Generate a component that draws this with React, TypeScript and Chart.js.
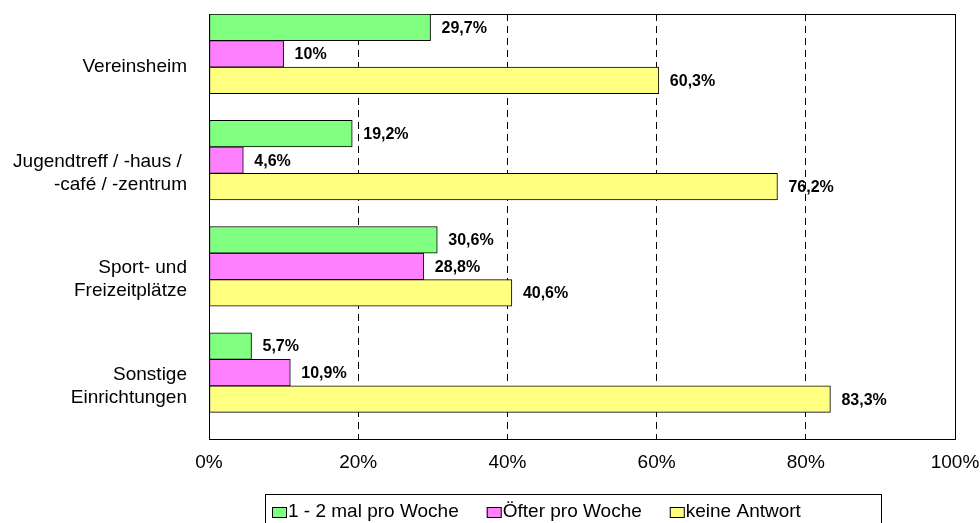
import React, { useEffect, useRef } from "react";
import { Chart, registerables } from "chart.js";

Chart.register(...registerables);

const categories: (string | string[])[] = [
  "Vereinsheim",
  ["Jugendtreff / -haus / ", "-café / -zentrum"],
  ["Sport- und", "Freizeitplätze"],
  ["Sonstige", "Einrichtungen"],
];
const seriesNames = ["1 - 2 mal pro Woche", "Öfter pro Woche", "keine Antwort"];
const weekly12 = [29.7, 19.2, 30.6, 5.7];
const moreOften = [10, 4.6, 28.8, 10.9];
const noAnswer = [60.3, 76.2, 40.6, 83.3];
const xTickValues = [0, 20, 40, 60, 80, 100];
const seriesColors = ["#80FF80", "#FF80FF", "#FFFF80"];

const FONT = "'Liberation Sans', Arial, sans-serif";

const fmt = (v: number) => String(v).replace(".", ",") + "%";

const plotBorderPlugin = {
  id: "plotBorder",
  beforeDatasetsDraw(chart: any) {
    const { ctx, chartArea } = chart;
    ctx.save();
    ctx.strokeStyle = "#000";
    ctx.lineWidth = 1;
    ctx.strokeRect(
      Math.round(chartArea.left) + 0.5,
      Math.round(chartArea.top) + 0.5,
      Math.round(chartArea.right - chartArea.left),
      Math.round(chartArea.bottom - chartArea.top)
    );
    ctx.restore();
  },
};

const valueLabelPlugin = {
  id: "valueLabels",
  afterDatasetsDraw(chart: any) {
    const { ctx } = chart;
    ctx.save();
    ctx.font = `bold 16px ${FONT}`;
    ctx.fillStyle = "#000";
    ctx.textAlign = "left";
    ctx.textBaseline = "middle";
    chart.data.datasets.forEach((ds: any, di: number) => {
      if (!ds.label) return;
      const meta = chart.getDatasetMeta(di);
      meta.data.forEach((el: any, i: number) => {
        const v = ds.data[i];
        if (v == null) return;
        ctx.fillText(fmt(v), el.x + 11, el.y + 1);
      });
    });
    ctx.restore();
  },
};

const boxLegendPlugin = {
  id: "boxLegend",
  afterDraw(chart: any) {
    const { ctx } = chart;
    ctx.save();
    ctx.strokeStyle = "#000";
    ctx.lineWidth = 1;
    ctx.strokeRect(265.5, 494.5, 616, 40);
    ctx.font = `19px ${FONT}`;
    ctx.textBaseline = "middle";
    ctx.textAlign = "left";
    let x = 272;
    const cy = 512;
    chart.data.datasets.forEach((ds: any) => {
      if (!ds.label) return;
      ctx.fillStyle = ds.backgroundColor;
      ctx.fillRect(x, cy - 5, 15, 10);
      ctx.strokeRect(x + 0.5, cy - 5 + 0.5, 14, 10);
      ctx.fillStyle = "#000";
      const tx = x + 16;
      ctx.fillText(ds.label, tx, cy);
      x = tx + ctx.measureText(ds.label).width + 28;
    });
    ctx.restore();
  },
};

export default function App() {
  const canvasRef = useRef<HTMLCanvasElement | null>(null);

  useEffect(() => {
    const canvas = canvasRef.current;
    if (!canvas) return;
    const seriesData = [weekly12, moreOften, noAnswer];
    const datasets: any[] = seriesNames.map((name, i) => ({
      label: name,
      data: seriesData[i],
      backgroundColor: seriesColors[i],
      borderColor: "#000",
      borderWidth: 1,
      borderSkipped: false,
      categoryPercentage: 1,
      barPercentage: 1,
    }));
    // empty spacer slot below each group
    datasets.push({
      label: "",
      data: categories.map(() => null),
      backgroundColor: "rgba(0,0,0,0)",
      borderWidth: 0,
      categoryPercentage: 1,
      barPercentage: 1,
    });

    const chart = new Chart(canvas, {
      type: "bar",
      data: { labels: categories as any, datasets },
      options: {
        indexAxis: "y",
        responsive: false,
        animation: false,
        layout: { padding: { top: 14, right: 25, left: 0, bottom: 0 } },
        plugins: {
          legend: { display: false },
          tooltip: { enabled: false },
        },
        scales: {
          x: {
            min: 0,
            max: 100,
            afterBuildTicks: (scale: any) => {
              scale.ticks = xTickValues.map((v) => ({ value: v }));
            },
            afterFit: (scale: any) => {
              scale.height = 523 - 439;
              scale.paddingLeft = 0;
              scale.paddingRight = 0;
            },
            ticks: {
              color: "#000",
              padding: 12,
              font: { family: FONT, size: 19 },
              callback: (v: any) => v + "%",
            },
            grid: {
              drawTicks: false,
              lineWidth: 1,
              color: (ctx: any) =>
                ctx.tick && (ctx.tick.value === 0 || ctx.tick.value === 100)
                  ? "rgba(0,0,0,0)"
                  : "#000",
            },
            border: { display: false, dash: [7, 5] },
          },
          y: {
            afterFit: (scale: any) => {
              scale.width = 209;
              scale.paddingTop = 0;
              scale.paddingBottom = 0;
            },
            ticks: {
              color: "#000",
              padding: 22,
              font: { family: FONT, size: 19 },
            },
            grid: { display: false, drawTicks: false },
            border: { display: false },
          },
        },
      },
      plugins: [plotBorderPlugin, valueLabelPlugin, boxLegendPlugin],
    });
    return () => chart.destroy();
  }, []);

  return (
    <div style={{ position: "fixed", left: 0, top: 0, width: 980, height: 523, background: "#fff" }}>
      <canvas ref={canvasRef} width={980} height={523} style={{ display: "block" }} />
    </div>
  );
}
